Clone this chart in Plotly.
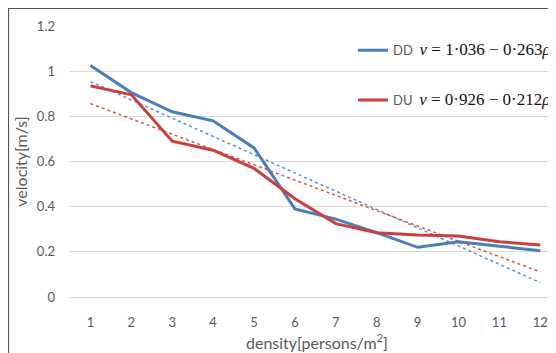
import numpy as np
import plotly.graph_objects as go

density = list(range(1, 13))
dd_velocity = [1.025, 0.905, 0.82, 0.78, 0.66, 0.39, 0.345, 0.285, 0.22, 0.245, 0.225, 0.205]
du_velocity = [0.935, 0.895, 0.69, 0.65, 0.57, 0.435, 0.325, 0.285, 0.275, 0.27, 0.245, 0.23]
y_ticks = [0, 0.2, 0.4, 0.6, 0.8, 1.0, 1.2]

dd_name = "DD  <span style='font-family:Liberation Serif;font-size:17px;color:#111'><i>v</i> = 1·036 − 0·263<i>ρ</i></span>"
du_name = "DU  <span style='font-family:Liberation Serif;font-size:17px;color:#111'><i>v</i> = 0·926 − 0·212<i>ρ</i></span>"

BLUE = "#4a7ebb"
RED = "#c9403e"

fig = go.Figure()

# linear trendlines fitted from the data (Excel-style)
for vals, col in [(dd_velocity, "#5b8fd0"), (du_velocity, "#d9534f")]:
    k, b = np.polyfit(density, vals, 1)
    xs = [density[0], density[-1]]
    fig.add_trace(go.Scatter(x=xs, y=[k * x + b for x in xs], mode="lines",
                             line=dict(color=col, width=1.5, dash="dot"),
                             showlegend=False, hoverinfo="skip"))

fig.add_trace(go.Scatter(x=density, y=dd_velocity, mode="lines", name=dd_name,
                         line=dict(color=BLUE, width=3), legendgroup="a"))
fig.add_trace(go.Scatter(x=density, y=du_velocity, mode="lines", name=du_name,
                         line=dict(color=RED, width=3), legendgroup="b"))

GRID = "#d9d9d9"
TXT = "#595959"
L, T, B = 62, 18, 64
PW, PH = 556 - L, 353 - T - B
fig.update_layout(
    width=556, height=353,
    margin=dict(l=L, r=0, t=T, b=B, autoexpand=False),
    paper_bgcolor="white", plot_bgcolor="white",
    font=dict(family="Lato, Open Sans, sans-serif", size=13, color=TXT),
    legend=dict(x=0.573, y=0.966, xanchor="left", yanchor="top",
                bgcolor="rgba(0,0,0,0)", tracegroupgap=30,
                font=dict(size=13, color=TXT)),
    xaxis=dict(range=[0.5, 12.58], tickmode="array", tickvals=density,
               ticktext=[str(d) for d in density], showgrid=False,
               zeroline=False, showline=False, ticks="", automargin=False,
               ticklabelstandoff=16,
               title=dict(text="density[persons/m<sup>2</sup>]", standoff=8,
                          font=dict(size=16, color=TXT))),
    yaxis=dict(range=[0, 1.2], tickmode="array", tickvals=y_ticks,
               ticktext=["0", "0.2", "0.4", "0.6", "0.8", "1", "1.2"],
               showgrid=True, gridcolor=GRID, gridwidth=1,
               zeroline=True, zerolinecolor=GRID, zerolinewidth=1,
               showline=False, ticks="", ticklabelstandoff=14, automargin=False,
               title=dict(text="velocity[m/s]", standoff=5,
                          font=dict(size=16, color=TXT))),
    shapes=[dict(type="rect", xref="paper", yref="paper",
                 x0=(0.5 - L) / PW, x1=1.2, y0=-0.4, y1=1 + (T - 0.5) / PH,
                 line=dict(color="#555555", width=1.2), fillcolor="rgba(0,0,0,0)",
                 layer="above")],
)

fig.write_html("out.html")
